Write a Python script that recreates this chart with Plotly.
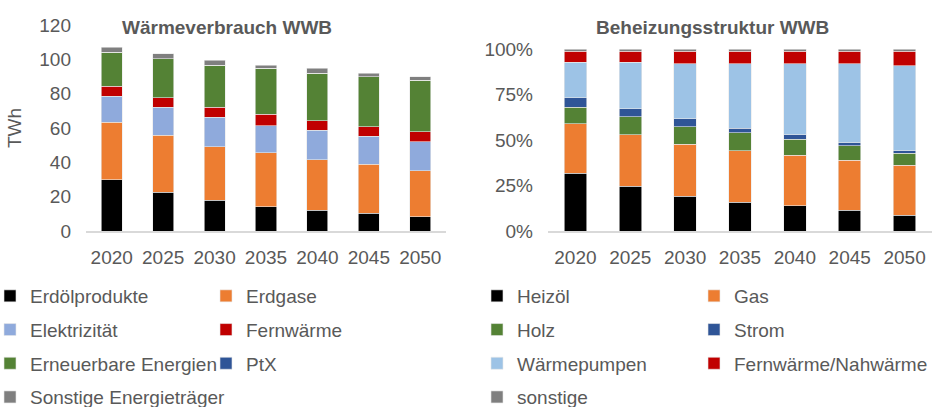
import plotly.graph_objects as go

years = ["2020", "2025", "2030", "2035", "2040", "2045", "2050"]

# Left chart: Wärmeverbrauch WWB (TWh)
erdoel = [30.0, 22.5, 17.8, 14.1, 12.2, 10.2, 8.2]
erdgase = [33.3, 33.4, 31.4, 31.4, 29.4, 28.6, 26.9]
elektrizitaet = [15.3, 16.1, 17.1, 15.9, 17.2, 16.3, 16.9]
fernwaerme = [5.7, 5.6, 5.7, 6.6, 5.5, 5.7, 5.8]
erneuerbare = [19.8, 22.8, 24.7, 26.7, 27.7, 29.2, 30.0]
ptx = [0.0, 0.0, 0.0, 0.0, 0.0, 0.0, 0.0]
sonstige_left = [2.9, 2.9, 2.7, 2.0, 2.7, 2.0, 2.2]

# Right chart: Beheizungsstruktur WWB (%)
heizoel = [31.6, 24.7, 19.2, 15.7, 13.9, 11.3, 8.6]
gas = [27.4, 28.3, 28.5, 28.5, 27.8, 27.5, 27.6]
holz = [9.0, 9.9, 9.7, 9.7, 8.6, 8.0, 6.4]
strom = [5.1, 4.2, 4.4, 2.6, 2.5, 1.6, 1.5]
waermepumpen = [19.6, 25.6, 30.2, 35.5, 39.2, 43.6, 46.8]
fernnah = [6.2, 6.2, 6.9, 6.9, 6.9, 6.9, 8.0]
sonstige_right = [1.1, 1.1, 1.1, 1.1, 1.1, 1.1, 1.1]

y_ticks_left = [0, 20, 40, 60, 80, 100, 120]
y_ticks_right = [0, 25, 50, 75, 100]
y_ticks_right_text = ["0%", "25%", "50%", "75%", "100%"]

FONT = "Liberation Sans, Arial, sans-serif"
GREY = "#595959"

left_series = [
    ("Erdölprodukte", erdoel, "#000000", "legend"),
    ("Erdgase", erdgase, "#ED7D31", "legend2"),
    ("Elektrizität", elektrizitaet, "#8FAADC", "legend"),
    ("Fernwärme", fernwaerme, "#C00000", "legend2"),
    ("Erneuerbare Energien", erneuerbare, "#548235", "legend"),
    ("PtX", ptx, "#2F5597", "legend2"),
    ("Sonstige Energieträger", sonstige_left, "#7F7F7F", "legend"),
]
right_series = [
    ("Heizöl", heizoel, "#000000", "legend3"),
    ("Gas", gas, "#ED7D31", "legend4"),
    ("Holz", holz, "#548235", "legend3"),
    ("Strom", strom, "#2F5597", "legend4"),
    ("Wärmepumpen", waermepumpen, "#9DC3E6", "legend3"),
    ("Fernwärme/Nahwärme", fernnah, "#C00000", "legend4"),
    ("sonstige", sonstige_right, "#7F7F7F", "legend3"),
]

fig = go.Figure()
for i, (name, vals, col, lg) in enumerate(left_series):
    fig.add_trace(go.Bar(
        x=years, y=vals, name=name, marker=dict(color=col, line=dict(color="#E8E8E8", width=0.6)),
        xaxis="x", yaxis="y", legend=lg, legendgroup="L%d" % i, width=0.41,
        hovertemplate="%{x}: %{y} TWh<extra>" + name + "</extra>"))
for i, (name, vals, col, lg) in enumerate(right_series):
    fig.add_trace(go.Bar(
        x=years, y=vals, name=name, marker=dict(color=col, line=dict(color="#E8E8E8", width=0.6)),
        xaxis="x2", yaxis="y2", legend=lg, legendgroup="R%d" % i, width=0.41,
        hovertemplate="%{x}: %{y}%<extra>" + name + "</extra>"))

H = 407.0
W = 937.0

def py(p):
    return 1 - p / H

def px(p):
    return p / W

legend_common = dict(
    orientation="v", traceorder="grouped", tracegroupgap=6,
    font=dict(family=FONT, size=19, color=GREY),
    bgcolor="rgba(0,0,0,0)", itemwidth=30, itemclick=False,
    xanchor="left", yanchor="top",
)

fig.update_layout(
    width=937, height=407,
    margin=dict(l=0, r=0, t=0, b=0, autoexpand=False),
    paper_bgcolor="white", plot_bgcolor="white",
    barmode="stack", bargap=0.6,
    font=dict(family=FONT, size=19, color=GREY),
    xaxis=dict(domain=[px(86), px(446)], anchor="y", showline=True, linecolor="#D9D9D9", linewidth=1.5,
               ticks="", ticklabelstandoff=8, tickfont=dict(size=19, color=GREY), showgrid=False),
    yaxis=dict(domain=[py(231), py(25)], anchor="x", range=[0, 120], tickvals=y_ticks_left,
               showgrid=False, zeroline=False, ticks="", ticklabelstandoff=14,
               tickfont=dict(size=19, color=GREY),
               title=dict(text="TWh", font=dict(size=19, color=GREY), standoff=12)),
    xaxis2=dict(domain=[px(548), px(932)], anchor="y2", showline=True, linecolor="#D9D9D9", linewidth=1.5,
                ticks="", ticklabelstandoff=8, tickfont=dict(size=19, color=GREY), showgrid=False),
    yaxis2=dict(domain=[py(231), py(49)], anchor="x2", range=[0, 100], tickvals=y_ticks_right,
                ticktext=y_ticks_right_text, showgrid=False, zeroline=False, ticks="",
                ticklabelstandoff=14, tickfont=dict(size=19, color=GREY)),
    legend=dict(x=px(-10), y=py(277), **legend_common),
    legend2=dict(x=px(206), y=py(277), **legend_common),
    legend3=dict(x=px(477), y=py(277), **legend_common),
    legend4=dict(x=px(694), y=py(277), **legend_common),
    annotations=[
        dict(text="<b>Wärmeverbrauch WWB</b>", x=px(227), y=py(27), xref="paper", yref="paper",
             xanchor="center", yanchor="middle", showarrow=False,
             font=dict(family=FONT, size=19, color=GREY)),
        dict(text="<b>Beheizungsstruktur WWB</b>", x=px(712), y=py(27), xref="paper", yref="paper",
             xanchor="center", yanchor="middle", showarrow=False,
             font=dict(family=FONT, size=19, color=GREY)),
    ],
    showlegend=True,
)

fig.write_html("out.html", config={"displayModeBar": False},
               post_script="document.body.style.margin='0';document.body.style.overflow='hidden';")
